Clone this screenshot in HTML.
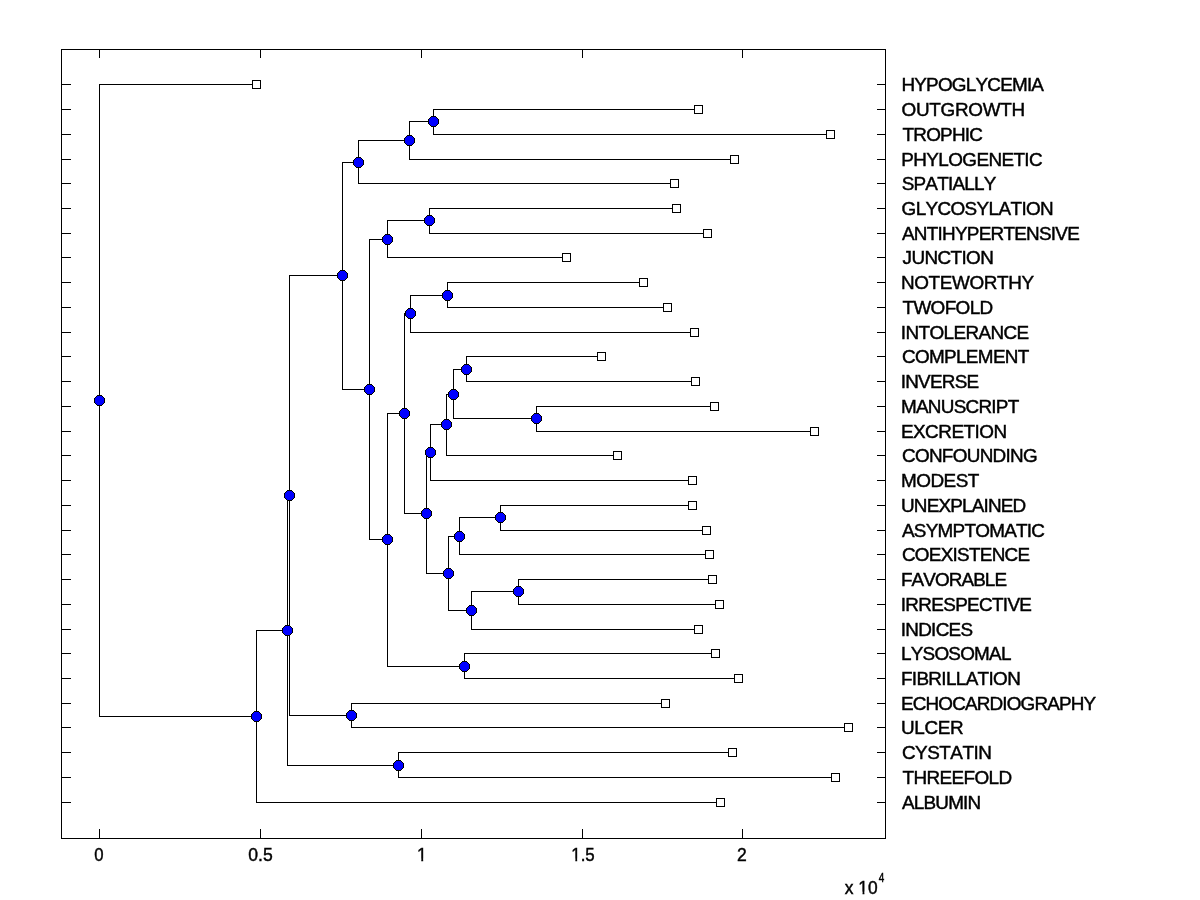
<!DOCTYPE html>
<html><head><meta charset="utf-8"><title>Dendrogram</title>
<style>html,body{margin:0;padding:0;background:#fff;}body{width:1200px;height:900px;overflow:hidden;font-family:"Liberation Sans",sans-serif;}svg{display:block;will-change:transform;}</style>
</head><body>
<svg width="1200" height="900" viewBox="0 0 1200 900">
<rect width="1200" height="900" fill="#fff"/>
<defs>
<g id="sq"><rect x="0" y="0" width="9" height="9" fill="#000"/><rect x="1" y="1" width="7" height="7" fill="#fff"/></g>
<g id="oc"><path fill="#000" d="M3 0h5v1h1v1h1v1h1v5h-1v1h-1v1h-1v1h-5v-1h-1v-1h-1v-1h-1v-5h1v-1h1v-1h1z"/><path fill="#00f" d="M3 1h5v1h1v1h1v5h-1v1h-1v1h-5v-1h-1v-1h-1v-5h1v-1h1z"/></g>
<filter id="gray" x="0" y="0" width="1200" height="900" filterUnits="userSpaceOnUse" color-interpolation-filters="sRGB"><feColorMatrix type="saturate" values="0"/></filter>
</defs>
<g fill="#000" shape-rendering="crispEdges">
<path d="M61 49h825v1h-825zM61 838h825v1h-825zM61 49h1v790h-1zM885 49h1v790h-1zM62 84h9v1h-9zM877 84h8v1h-8zM62 109h9v1h-9zM877 109h8v1h-8zM62 134h9v1h-9zM877 134h8v1h-8zM62 159h9v1h-9zM877 159h8v1h-8zM62 183h9v1h-9zM877 183h8v1h-8zM62 208h9v1h-9zM877 208h8v1h-8zM62 233h9v1h-9zM877 233h8v1h-8zM62 257h9v1h-9zM877 257h8v1h-8zM62 282h9v1h-9zM877 282h8v1h-8zM62 307h9v1h-9zM877 307h8v1h-8zM62 332h9v1h-9zM877 332h8v1h-8zM62 356h9v1h-9zM877 356h8v1h-8zM62 381h9v1h-9zM877 381h8v1h-8zM62 406h9v1h-9zM877 406h8v1h-8zM62 431h9v1h-9zM877 431h8v1h-8zM62 455h9v1h-9zM877 455h8v1h-8zM62 480h9v1h-9zM877 480h8v1h-8zM62 505h9v1h-9zM877 505h8v1h-8zM62 530h9v1h-9zM877 530h8v1h-8zM62 554h9v1h-9zM877 554h8v1h-8zM62 579h9v1h-9zM877 579h8v1h-8zM62 604h9v1h-9zM877 604h8v1h-8zM62 629h9v1h-9zM877 629h8v1h-8zM62 653h9v1h-9zM877 653h8v1h-8zM62 678h9v1h-9zM877 678h8v1h-8zM62 703h9v1h-9zM877 703h8v1h-8zM62 727h9v1h-9zM877 727h8v1h-8zM62 752h9v1h-9zM877 752h8v1h-8zM62 777h9v1h-9zM877 777h8v1h-8zM62 802h9v1h-9zM877 802h8v1h-8zM99 50h1v8h-1zM99 829h1v9h-1zM260 50h1v8h-1zM260 829h1v9h-1zM421 50h1v8h-1zM421 829h1v9h-1zM582 50h1v8h-1zM582 829h1v9h-1zM742 50h1v8h-1zM742 829h1v9h-1zM99 84h1v633h-1zM99 84h158v1h-158zM99 716h158v1h-158zM256 630h1v173h-1zM256 630h32v1h-32zM256 802h465v1h-465zM287 495h1v271h-1zM287 495h3v1h-3zM287 765h112v1h-112zM289 275h1v441h-1zM289 275h54v1h-54zM289 715h63v1h-63zM342 162h1v228h-1zM342 162h17v1h-17zM342 389h28v1h-28zM358 140h1v44h-1zM358 140h52v1h-52zM358 183h317v1h-317zM409 121h1v39h-1zM409 121h25v1h-25zM409 159h326v1h-326zM433 109h1v26h-1zM433 109h266v1h-266zM433 134h398v1h-398zM369 239h1v301h-1zM369 239h19v1h-19zM369 539h19v1h-19zM387 220h1v38h-1zM387 220h43v1h-43zM387 257h180v1h-180zM429 208h1v26h-1zM429 208h248v1h-248zM429 233h279v1h-279zM387 413h1v254h-1zM387 413h18v1h-18zM387 666h78v1h-78zM404 313h1v201h-1zM404 313h7v1h-7zM404 513h23v1h-23zM410 295h1v38h-1zM410 295h38v1h-38zM410 332h285v1h-285zM447 282h1v26h-1zM447 282h197v1h-197zM447 307h221v1h-221zM426 452h1v122h-1zM426 452h5v1h-5zM426 573h23v1h-23zM430 424h1v57h-1zM430 424h17v1h-17zM430 480h263v1h-263zM446 394h1v62h-1zM446 394h8v1h-8zM446 455h172v1h-172zM453 369h1v50h-1zM453 369h14v1h-14zM453 418h84v1h-84zM466 356h1v26h-1zM466 356h136v1h-136zM466 381h230v1h-230zM536 406h1v26h-1zM536 406h179v1h-179zM536 431h279v1h-279zM448 536h1v75h-1zM448 536h12v1h-12zM448 610h24v1h-24zM459 517h1v38h-1zM459 517h42v1h-42zM459 554h251v1h-251zM500 505h1v26h-1zM500 505h193v1h-193zM500 530h207v1h-207zM471 591h1v39h-1zM471 591h48v1h-48zM471 629h228v1h-228zM518 579h1v26h-1zM518 579h195v1h-195zM518 604h202v1h-202zM464 653h1v26h-1zM464 653h252v1h-252zM464 678h275v1h-275zM351 703h1v25h-1zM351 703h315v1h-315zM351 727h498v1h-498zM398 752h1v26h-1zM398 752h335v1h-335zM398 777h438v1h-438z"/>
</g>
<g shape-rendering="crispEdges"><use href="#sq" x="252" y="80"/><use href="#sq" x="694" y="105"/><use href="#sq" x="826" y="130"/><use href="#sq" x="730" y="155"/><use href="#sq" x="670" y="179"/><use href="#sq" x="672" y="204"/><use href="#sq" x="703" y="229"/><use href="#sq" x="562" y="253"/><use href="#sq" x="639" y="278"/><use href="#sq" x="663" y="303"/><use href="#sq" x="690" y="328"/><use href="#sq" x="597" y="352"/><use href="#sq" x="691" y="377"/><use href="#sq" x="710" y="402"/><use href="#sq" x="810" y="427"/><use href="#sq" x="613" y="451"/><use href="#sq" x="688" y="476"/><use href="#sq" x="688" y="501"/><use href="#sq" x="702" y="526"/><use href="#sq" x="705" y="550"/><use href="#sq" x="708" y="575"/><use href="#sq" x="715" y="600"/><use href="#sq" x="694" y="625"/><use href="#sq" x="711" y="649"/><use href="#sq" x="734" y="674"/><use href="#sq" x="661" y="699"/><use href="#sq" x="844" y="723"/><use href="#sq" x="728" y="748"/><use href="#sq" x="831" y="773"/><use href="#sq" x="716" y="798"/><use href="#oc" x="94" y="395"/><use href="#oc" x="251" y="711"/><use href="#oc" x="282" y="625"/><use href="#oc" x="284" y="490"/><use href="#oc" x="337" y="270"/><use href="#oc" x="353" y="157"/><use href="#oc" x="404" y="135"/><use href="#oc" x="428" y="116"/><use href="#oc" x="364" y="384"/><use href="#oc" x="382" y="234"/><use href="#oc" x="424" y="215"/><use href="#oc" x="382" y="534"/><use href="#oc" x="399" y="408"/><use href="#oc" x="405" y="308"/><use href="#oc" x="442" y="290"/><use href="#oc" x="421" y="508"/><use href="#oc" x="425" y="447"/><use href="#oc" x="441" y="419"/><use href="#oc" x="448" y="389"/><use href="#oc" x="461" y="364"/><use href="#oc" x="531" y="413"/><use href="#oc" x="443" y="568"/><use href="#oc" x="454" y="531"/><use href="#oc" x="495" y="512"/><use href="#oc" x="466" y="605"/><use href="#oc" x="513" y="586"/><use href="#oc" x="459" y="661"/><use href="#oc" x="346" y="710"/><use href="#oc" x="393" y="760"/></g>
<g filter="url(#gray)" font-family="'Liberation Sans', sans-serif" font-size="18.9" fill="#000" stroke="#000" stroke-width="0.45" style="font-kerning:none">
<text x="901.45" y="91" letter-spacing="-0.786">HYPOGLYCEMIA</text>
<text x="901.60" y="116" letter-spacing="-0.305">OUTGROWTH</text>
<text x="902.48" y="141" letter-spacing="-0.751">TROPHIC</text>
<text x="901.35" y="166" letter-spacing="-0.610">PHYLOGENETIC</text>
<text x="901.64" y="190" letter-spacing="-0.759">SPATIALLY</text>
<text x="901.55" y="215" letter-spacing="-0.613">GLYCOSYLATION</text>
<text x="901.96" y="240" letter-spacing="-0.739">ANTIHYPERTENSIVE</text>
<text x="902.60" y="264" letter-spacing="-0.615">JUNCTION</text>
<text x="900.95" y="289" letter-spacing="-0.358">NOTEWORTHY</text>
<text x="902.48" y="314" letter-spacing="-0.627">TWOFOLD</text>
<text x="900.76" y="339" letter-spacing="-0.597">INTOLERANCE</text>
<text x="901.94" y="363" letter-spacing="-0.652">COMPLEMENT</text>
<text x="900.76" y="388" letter-spacing="-0.770">INVERSE</text>
<text x="900.95" y="413" letter-spacing="-0.730">MANUSCRIPT</text>
<text x="900.95" y="438" letter-spacing="-0.509">EXCRETION</text>
<text x="901.94" y="462" letter-spacing="-0.692">CONFOUNDING</text>
<text x="900.95" y="487" letter-spacing="-0.473">MODEST</text>
<text x="901.04" y="512" letter-spacing="-0.813">UNEXPLAINED</text>
<text x="901.96" y="537" letter-spacing="-0.741">ASYMPTOMATIC</text>
<text x="901.94" y="561" letter-spacing="-0.720">COEXISTENCE</text>
<text x="900.95" y="586" letter-spacing="-0.909">FAVORABLE</text>
<text x="900.76" y="611" letter-spacing="-0.670">IRRESPECTIVE</text>
<text x="900.76" y="636" letter-spacing="-0.725">INDICES</text>
<text x="900.95" y="660" letter-spacing="-0.752">LYSOSOMAL</text>
<text x="900.95" y="685" letter-spacing="-0.653">FIBRILLATION</text>
<text x="900.95" y="710" letter-spacing="-0.837">ECHOCARDIOGRAPHY</text>
<text x="901.04" y="734" letter-spacing="-0.332">ULCER</text>
<text x="901.94" y="759" letter-spacing="-0.494">CYSTATIN</text>
<text x="902.48" y="784" letter-spacing="-0.604">THREEFOLD</text>
<text x="901.96" y="809" letter-spacing="-0.790">ALBUMIN</text>
<text x="94.35" y="861" textLength="9.31" lengthAdjust="spacingAndGlyphs">0</text>
<text x="248.31" y="861" textLength="24.42" lengthAdjust="spacingAndGlyphs">0.5</text>
<text x="417.02" y="861" textLength="9.79" lengthAdjust="spacingAndGlyphs">1</text>
<text x="571.27" y="861" textLength="23.44" lengthAdjust="spacingAndGlyphs">1.5</text>
<text x="737.12" y="861" textLength="9.77" lengthAdjust="spacingAndGlyphs">2</text>
<text x="844.80" y="894" textLength="32.87" lengthAdjust="spacingAndGlyphs">x 10</text>
<text x="878.77" y="882" font-size="12.6" textLength="5.52" lengthAdjust="spacingAndGlyphs">4</text>
</g>
<rect x="417.16" y="858.70" width="4.11" height="3.6" fill="#fff"/><rect x="423.18" y="858.70" width="4.17" height="3.6" fill="#fff"/>
<rect x="571.35" y="858.70" width="3.98" height="3.6" fill="#fff"/><rect x="577.17" y="858.70" width="4.05" height="3.6" fill="#fff"/>
<rect x="858.46" y="891.70" width="4.07" height="3.6" fill="#fff"/><rect x="864.42" y="891.70" width="4.14" height="3.6" fill="#fff"/>
</svg>
</body></html>
